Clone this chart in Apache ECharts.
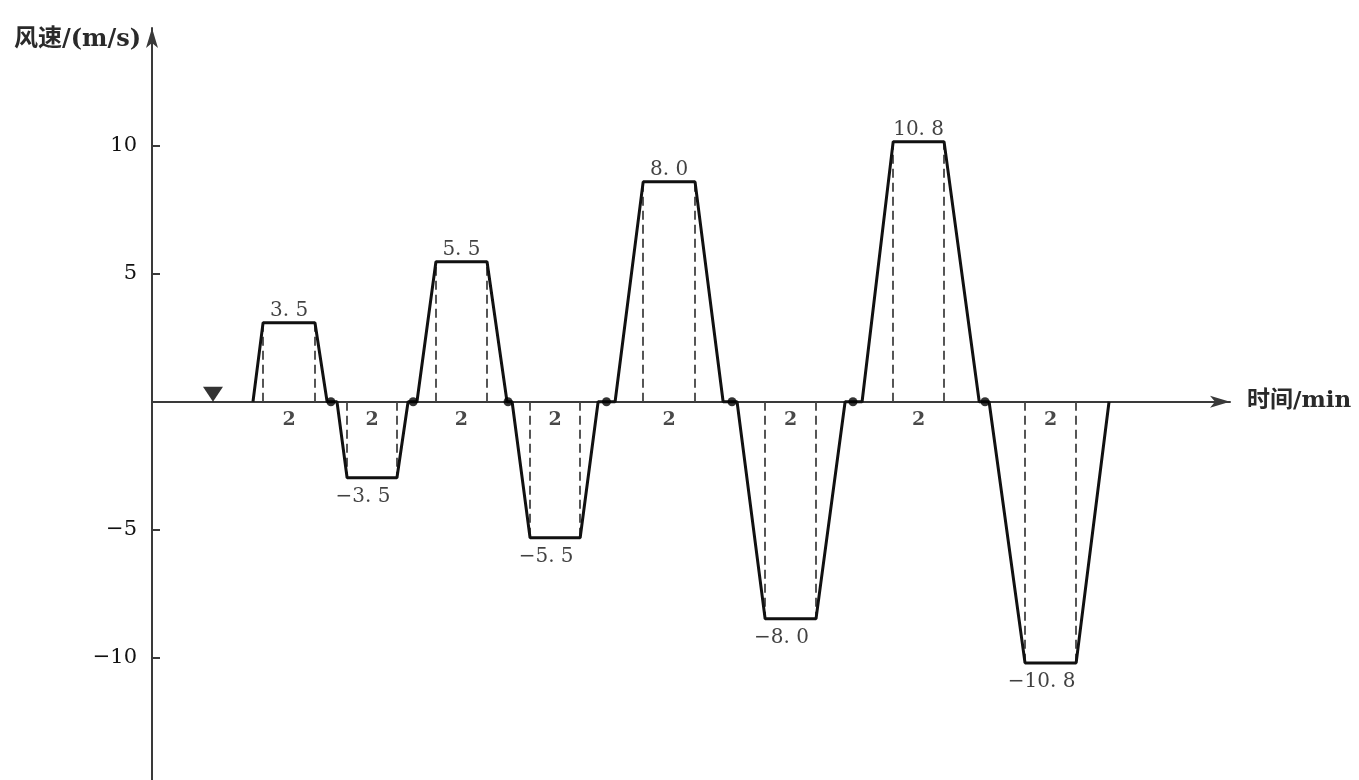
<!DOCTYPE html>
<html>
<head>
<meta charset="utf-8">
<script src="https://cdn.jsdelivr.net/npm/echarts@6/dist/echarts.min.js"></script>
<style>
html,body{margin:0;padding:0;background:#fff;}
#chart{width:1359px;height:780px;}
</style>
</head>
<body>
<div id="chart"></div>
<script>
// ---- data (time in min, wind speed in m/s) ----
const rampStart    = [3.99, 7.31, 10.47, 14.23, 18.30, 23.12, 28.06, 33.08];
const plateauStart = [4.39, 7.71, 11.22, 14.94, 19.41, 24.23, 29.29, 34.50];
const plateauEnd   = [6.44, 9.68, 13.24, 16.92, 21.46, 26.24, 31.30, 36.52];
const rampEnd      = [6.92, 10.12, 14.03, 17.63, 22.57, 27.39, 32.69, 37.82];
const plateauSpeed = [3.09, -2.97, 5.47, -5.31, 8.59, -8.48, 10.16, -10.20];
const speedLabels  = ['3. 5', '\u22123. 5', '5. 5', '\u22125. 5', '8. 0', '\u22128. 0', '10. 8', '\u221210. 8'];
const durationLabels = ['2', '2', '2', '2', '2', '2', '2', '2'];
const pauseDots    = [7.07, 10.32, 14.07, 17.96, 22.92, 27.70, 32.92];
const startMarker  = [2.41, 0.29];
const yTickValues  = [-10, -5, 5, 10];
const yAxisTitle   = '风速/(m/s)';
const xAxisTitle   = '时间/min';

// ---- build series data ----
const profile = [];
for (let i = 0; i < plateauSpeed.length; i++) {
  profile.push([rampStart[i], 0]);
  profile.push([plateauStart[i], plateauSpeed[i]]);
  profile.push([plateauEnd[i], plateauSpeed[i]]);
  profile.push([rampEnd[i], 0]);
}
const guides = [];
for (let i = 0; i < plateauSpeed.length; i++) {
  guides.push({coords: [[plateauStart[i], 0], [plateauStart[i], plateauSpeed[i]]]});
  guides.push({coords: [[plateauEnd[i], 0], [plateauEnd[i], plateauSpeed[i]]]});
}
const speedLabelData = plateauSpeed.map((v, i) => ({
  value: [(plateauStart[i] + plateauEnd[i]) / 2, v],
  label: {
    formatter: speedLabels[i],
    position: v >= 0 ? 'top' : 'bottom',
    distance: v >= 0 ? 2 : 9,
    offset: v >= 0 ? [0, 0] : [-9, 0]
  }
}));
const durationData = plateauSpeed.map((v, i) => ({
  value: [(plateauStart[i] + plateauEnd[i]) / 2, 0],
  label: {formatter: durationLabels[i]}
}));

const serif = '"DejaVu Serif", "Liberation Serif", serif';
const chart = echarts.init(document.getElementById('chart'));
chart.setOption({
  backgroundColor: '#ffffff',
  animation: false,
  grid: {left: 152, top: 28, width: 1078, height: 752},
  xAxis: {
    type: 'value', min: 0, max: 42.6,
    axisLine: {onZero: true, symbol: ['none', 'arrow'], symbolSize: [9, 20],
               lineStyle: {color: '#3a3a3a', width: 2}},
    axisTick: {show: false}, axisLabel: {show: false}, splitLine: {show: false}
  },
  yAxis: {
    type: 'value', min: -14.775, max: 14.6,
    axisLine: {show: true, symbol: ['none', 'arrow'], symbolSize: [9, 20],
               lineStyle: {color: '#3a3a3a', width: 2}},
    axisTick: {show: true, inside: true, length: 8, customValues: yTickValues,
               lineStyle: {color: '#3a3a3a', width: 2}},
    axisLabel: {customValues: yTickValues, margin: 15, color: '#111',
                fontFamily: serif, fontSize: 21,
                formatter: v => (v < 0 ? '\u2212' + Math.abs(v) : String(v))},
    splitLine: {show: false}
  },
  graphic: [
    {type: 'text', left: 14, top: 28,
     style: {text: yAxisTitle, fontFamily: '"DejaVu Serif", "Noto Sans CJK SC", serif',
             fontSize: 24, fontWeight: 'bold', fill: '#2a2a2a'}},
    {type: 'text', left: 1247, top: 390,
     style: {text: xAxisTitle, fontFamily: '"DejaVu Serif", "Noto Sans CJK SC", serif',
             fontSize: 23, fontWeight: 'bold', fill: '#2a2a2a'}}
  ],
  series: [
    {
      type: 'lines', coordinateSystem: 'cartesian2d', polyline: false,
      data: guides, silent: true,
      lineStyle: {color: '#444', width: 1.8, type: [9, 5], opacity: 1}
    },
    {
      type: 'line', data: profile, showSymbol: false, symbol: 'none',
      lineStyle: {color: '#111', width: 3}, z: 5
    },
    {
      type: 'scatter', data: pauseDots.map(t => [t, 0]),
      symbol: 'circle', symbolSize: 9, itemStyle: {color: '#000'}, z: 6
    },
    {
      type: 'scatter', data: [startMarker],
      symbol: 'triangle', symbolRotate: 180, symbolSize: [20, 15],
      itemStyle: {color: '#000'}, z: 6
    },
    {
      type: 'scatter', data: speedLabelData, symbolSize: 0,
      label: {show: true, color: '#111', fontFamily: serif, fontSize: 20},
      z: 7
    },
    {
      type: 'scatter', data: durationData, symbolSize: 0,
      label: {show: true, position: 'bottom', distance: 9, color: '#1a1a1a',
              fontFamily: serif, fontSize: 19, fontWeight: 'bold'},
      z: 7
    }
  ]
});
</script>
</body>
</html>
